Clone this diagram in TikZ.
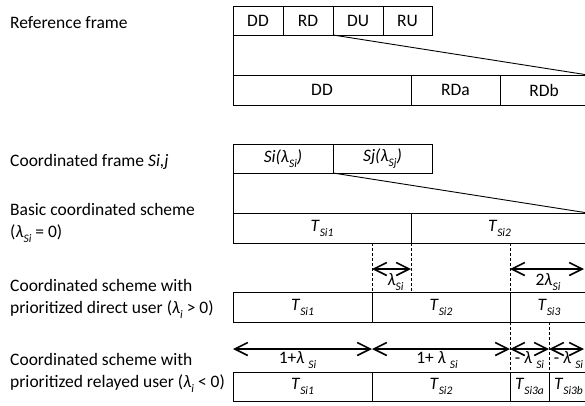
\documentclass[tikz,border=0pt]{standalone}
\usepackage{fontspec}
\setmainfont{Carlito}
\usetikzlibrary{arrows.meta}
\newcommand\lam{\textit{λ}}
\newcommand\mysub[1]{\raisebox{-0.28em}{\fontsize{11.5}{12}\selectfont\textit{#1}}}
\newcommand\Tsi[1]{\textit{T}\mysub{Si#1}}
\tikzset{
  cell/.style={draw, line width=0.9pt, anchor=north west, inner sep=0pt, outer sep=0pt},
  lbl/.style={anchor=west, inner sep=0pt, align=left},
  dim/.style={{Straight Barb[length=13pt,width=13pt]}-{Straight Barb[length=13pt,width=13pt]}, line width=1.6pt},
  guide/.style={dashed, line width=0.8pt, dash pattern=on 3pt off 2pt},
  frame/.style={line width=0.9pt},
  dimlbl/.style={anchor=north, inner sep=1pt}
}
\begin{document}
\begin{tikzpicture}[x=1pt,y=-1pt,font=\fontsize{17.5}{22}\selectfont]
\clip (0,0) rectangle (585,405);
% left labels
\node[lbl] (l1) at (10,23) {Reference frame};
\node[lbl] (l2) at (10,162) {Coordinated frame \textit{Si,j}};
\node[lbl] (l3) at (10,223) {Basic coordinated scheme\\(\lam\mysub{Si} = 0)};
\node[lbl] (l4) at (10,299) {Coordinated scheme with\\prioritized direct user (\lam\mysub{i} > 0)};
\node[lbl] (l5) at (10,373) {Coordinated scheme with\\prioritized relayed user (\lam\mysub{i} < 0)};
% reference frame
\node[cell, minimum width=50pt, minimum height=29pt] (a1) at (233,6) {DD};
\node[cell, minimum width=50pt, minimum height=29pt] (a2) at (283,6) {RD};
\node[cell, minimum width=50pt, minimum height=29pt] (a3) at (333,6) {DU};
\node[cell, minimum width=49pt, minimum height=29pt] (a4) at (383,6) {RU};
\node[cell, minimum width=178pt, minimum height=30pt] (b1) at (233,75) {DD};
\node[cell, minimum width=89pt, minimum height=30pt] (b2) at (411,75) {RDa};
\node[cell, minimum width=88pt, minimum height=30pt] (b3) at (500,75) {RDb};
\draw[frame] (a1.south west) -- (b1.north west);
\draw[frame] (a2.south east) -- (b3.north east);
% coordinated frame
\node[cell, minimum width=100pt, minimum height=29pt] (c1) at (233,144) {\textit{Si(λ\mysub{Si})}};
\node[cell, minimum width=99pt, minimum height=29pt] (c2) at (333,144) {\textit{Sj(λ\mysub{Sj})}};
\node[cell, minimum width=178pt, minimum height=30pt] (d1) at (233,213) {\Tsi{1}};
\node[cell, minimum width=177pt, minimum height=30pt] (d2) at (411,213) {\Tsi{2}};
\draw[frame] (c1.south west) -- (d1.north west);
\draw[frame] (c1.south east) -- (d2.north east);
% direct user row
\node[cell, minimum width=139pt, minimum height=30pt] (e1) at (233,292) {\Tsi{1}};
\node[cell, minimum width=138pt, minimum height=30pt] (e2) at (372,292) {\Tsi{2}};
\node[cell, minimum width=78pt, minimum height=30pt] (e3) at (510,292) {\Tsi{3}};
% relayed user row
\node[cell, minimum width=139pt, minimum height=29pt] (f1) at (233,372) {\Tsi{1}};
\node[cell, minimum width=138pt, minimum height=29pt] (f2) at (372,372) {\Tsi{2}};
\node[cell, minimum width=39pt, minimum height=29pt] (f3) at (510,372) {\Tsi{3a}};
\node[cell, minimum width=39pt, minimum height=29pt] (f4) at (549,372) {\Tsi{3b}};
% guides
\coordinate (g1) at (372,243);
\coordinate (g2) at (411,243);
\coordinate (g3) at (510,243);
\draw[guide] (g1) -- (e2.north west);
\draw[guide] (g2) -- (g2 |- e2.north);
\draw[guide] (g3) -- (e3.north west);
\draw[guide] (e3.south west) -- (f3.north west);
\draw[guide] (f4.north west |- e3.south) -- (f4.north west);
% dimension arrows row 3
\coordinate (p1) at (372,269);
\coordinate (p2) at (411,269);
\coordinate (p3) at (510,269);
\coordinate (p4) at (584,269);
\draw[dim] (p1) -- (p2) node[dimlbl, midway, xshift=4pt, yshift=-3pt] (m1) {\lam\mysub{Si}};
\draw[dim] (p3) -- (p4) node[dimlbl, midway, xshift=1pt, yshift=-3pt] (m2) {2\lam\mysub{Si}};
% dimension arrows row 4
\coordinate (q0) at (233,349);
\coordinate (q1) at (372,349);
\coordinate (q2) at (510,349);
\coordinate (q3) at (549,349);
\coordinate (q4) at (584,349);
\draw[dim] (q0) -- (q1) node[dimlbl, midway, xshift=-5pt, yshift=-1pt] (n1) {1+\lam\ \mysub{Si}};
\draw[dim] (q1) -- (q2) node[dimlbl, midway, xshift=-4pt, yshift=-1pt] (n2) {1+ \lam\ \mysub{Si}};
\draw[dim] (q2) -- (q3) node[dimlbl, midway, yshift=-1pt] (n3) {- \lam\ \mysub{Si}};
\draw[dim] (q3) -- (q4) node[dimlbl, midway, xshift=2pt, yshift=-1pt] (n4) {- \lam\ \mysub{Si}};
\end{tikzpicture}
\end{document}
